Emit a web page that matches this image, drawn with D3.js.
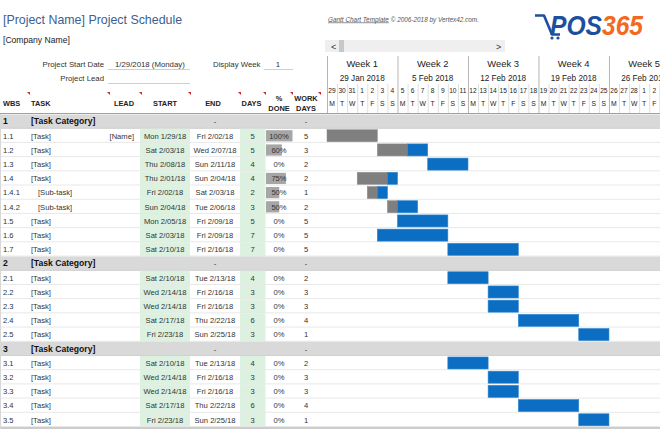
<!DOCTYPE html>
<html><head><meta charset="utf-8">
<script src="https://cdn.jsdelivr.net/npm/d3@7"></script>
<style>body{margin:0;background:#fff;} svg{display:block;font-family:"Liberation Sans",Arial,sans-serif;}</style>
</head><body><svg id="c" width="660" height="440"></svg>
<script>
// ---------- data ----------
const wbs = ["1","1.1","1.2","1.3","1.4","1.4.1","1.4.2","1.5","1.6","1.7","2","2.1","2.2","2.3","2.4","2.5","3","3.1","3.2","3.3","3.4","3.5"];
const tasks = ["[Task Category]","[Task]","[Task]","[Task]","[Task]","[Sub-task]","[Sub-task]","[Task]","[Task]","[Task]",
  "[Task Category]","[Task]","[Task]","[Task]","[Task]","[Task]",
  "[Task Category]","[Task]","[Task]","[Task]","[Task]","[Task]"];
const leads = ["","[Name]","","","","","","","","","","","","","","","","","","","",""];
const startDates = [null,"2018-01-29","2018-02-03","2018-02-08","2018-02-01","2018-02-02","2018-02-04","2018-02-05","2018-02-03","2018-02-10",
  null,"2018-02-10","2018-02-14","2018-02-14","2018-02-17","2018-02-23",
  null,"2018-02-10","2018-02-14","2018-02-14","2018-02-17","2018-02-23"];
const endDates = [null,"2018-02-02","2018-02-07","2018-02-11","2018-02-04","2018-02-03","2018-02-06","2018-02-09","2018-02-09","2018-02-16",
  null,"2018-02-13","2018-02-16","2018-02-16","2018-02-22","2018-02-25",
  null,"2018-02-13","2018-02-16","2018-02-16","2018-02-22","2018-02-25"];
const days = [null,5,5,4,4,2,3,5,7,7,null,4,3,3,6,3,null,4,3,3,6,3];
const pctDone = [null,100,60,0,75,50,50,0,0,0,null,0,0,0,0,0,null,0,0,0,0,0];
const workDays = ["-",5,3,2,2,1,2,5,5,5,"-",2,3,3,4,1,"-",2,3,3,4,1];
const weekLabels = ["Week 1","Week 2","Week 3","Week 4","Week 5"];
const dayLetters = ["M","T","W","T","F","S","S"];
const projectStart = "2018-01-29";
const projectStartLabel = "1/29/2018 (Monday)";
const displayWeek = "1";

// ---------- setup ----------
const svg = d3.select("#c");
const parse = d3.timeParse("%Y-%m-%d");
const fmtCell = d3.timeFormat("%a %-m/%d/%y");
const fmtWeek = d3.timeFormat("%-d %b %Y");
const t0 = parse(projectStart);
const tEnd = d3.timeDay.offset(t0, 35);
const x = d3.scaleTime().domain([t0, tEnd]).range([327, 327 + 35 * 10.07]);
const y = d3.scaleBand().domain(d3.range(wbs.length)).range([114.5, 427]).padding(0);
const pctW = d3.scaleLinear().domain([0, 100]).range([0, 26.5]);
const isCat = i => startDates[i] === null;
const BLUE = "#0b6ec2", GRAY = "#7f7f7f", GREEN = "#dcf1e0", CATBG = "#d9d9d9";

// ---------- title area ----------
svg.append("text").attr("x", 3).attr("y", 23.5).attr("font-size", 12.4).attr("fill", "#3c5e91").text("[Project Name] Project Schedule");
svg.append("text").attr("x", 3).attr("y", 43).attr("font-size", 8.6).attr("fill", "#222").text("[Company Name]");

const info = svg.append("g").attr("font-size", 7.8).attr("fill", "#333");
info.append("text").attr("x", 104).attr("y", 66.5).attr("text-anchor", "end").text("Project Start Date");
info.append("text").attr("x", 104).attr("y", 80.5).attr("text-anchor", "end").text("Project Lead");
info.append("text").attr("x", 115).attr("y", 66.5).text(projectStartLabel);
info.append("text").attr("x", 213).attr("y", 66.5).text("Display Week");
info.append("text").attr("x", 278).attr("y", 66.5).attr("text-anchor", "middle").text(displayWeek);
[[108,190,69.5],[108,190,83.5],[264,293,69.5]].forEach(d =>
  svg.append("line").attr("x1", d[0]).attr("x2", d[1]).attr("y1", d[2]).attr("y2", d[2]).attr("stroke", "#cfcfcf").attr("stroke-width", 1));

// credit
const cr = svg.append("text").attr("x", 328).attr("y", 21.5).attr("font-size", 6.4).attr("font-style", "italic").attr("fill", "#555");
cr.append("tspan").attr("text-decoration", "underline").text("Gantt Chart Template");
cr.append("tspan").text(" © 2006-2018 by Vertex42.com.");

// logo
const logo = svg.append("g");
logo.append("path").attr("d", "M535,15.5 L544,15.5 L552,34.5 L560,34.5").attr("fill", "none").attr("stroke", "#1d4f9f").attr("stroke-width", 2.6).attr("stroke-linejoin", "round");
logo.append("circle").attr("cx", 552).attr("cy", 38).attr("r", 1.6).attr("fill", "#1d4f9f");
logo.append("circle").attr("cx", 558).attr("cy", 38).attr("r", 1.6).attr("fill", "#1d4f9f");
const lt = logo.append("text").attr("x", 550).attr("y", 35).attr("font-size", 28).attr("font-weight", "bold").attr("font-style", "italic")
  .attr("textLength", 93).attr("lengthAdjust", "spacingAndGlyphs");
lt.append("tspan").attr("fill", "#1d4f9f").text("POS");
lt.append("tspan").attr("fill", "#f26a21").text("365");

// scrollbar
svg.append("rect").attr("x", 325).attr("y", 40).attr("width", 180).attr("height", 12).attr("fill", "#efefef");
svg.append("rect").attr("x", 339).attr("y", 40).attr("width", 5).attr("height", 12).attr("fill", "#c8c8c8");
svg.append("text").attr("x", 331).attr("y", 49.5).attr("font-size", 9).attr("fill", "#333").text("<");
svg.append("text").attr("x", 496).attr("y", 49.5).attr("font-size", 9).attr("fill", "#333").text(">");

// ---------- rows background ----------
const rows = svg.append("g");
wbs.forEach((w, i) => {
  const top = y(i), h = y.bandwidth();
  if (isCat(i)) {
    rows.append("rect").attr("x", 0).attr("y", top).attr("width", 660).attr("height", h).attr("fill", CATBG);
  } else {
    rows.append("rect").attr("x", 140).attr("y", top).attr("width", 50).attr("height", h).attr("fill", GREEN);
    rows.append("rect").attr("x", 240).attr("y", top).attr("width", 25.5).attr("height", h).attr("fill", GREEN);
  }
  rows.append("line").attr("x1", 0).attr("x2", 660).attr("y1", top + h - 0.5).attr("y2", top + h - 0.5)
    .attr("stroke", isCat(i) ? "#d0d0d0" : "#e8e8e8").attr("stroke-width", 1);
});
svg.append("line").attr("x1", 0).attr("x2", 660).attr("y1", 428).attr("y2", 428).attr("stroke", "#cccccc").attr("stroke-width", 2);
svg.append("line").attr("x1", 0.5).attr("x2", 0.5).attr("y1", 113).attr("y2", 429).attr("stroke", "#d8d8d8");

// ---------- table header ----------
const hdr = svg.append("g").attr("font-size", 7.4).attr("font-weight", "bold").attr("fill", "#222");
hdr.append("text").attr("x", 3).attr("y", 106).text("WBS");
hdr.append("text").attr("x", 31).attr("y", 106).text("TASK");
hdr.append("text").attr("x", 134).attr("y", 106).attr("text-anchor", "end").text("LEAD");
hdr.append("text").attr("x", 165).attr("y", 106).attr("text-anchor", "middle").text("START");
hdr.append("text").attr("x", 213).attr("y", 106).attr("text-anchor", "middle").text("END");
hdr.append("text").attr("x", 251.5).attr("y", 106).attr("text-anchor", "middle").text("DAYS");
hdr.append("text").attr("x", 279).attr("y", 100.5).attr("text-anchor", "middle").text("%");
hdr.append("text").attr("x", 279).attr("y", 111).attr("text-anchor", "middle").text("DONE");
hdr.append("text").attr("x", 306).attr("y", 100.5).attr("text-anchor", "middle").text("WORK");
hdr.append("text").attr("x", 306).attr("y", 111).attr("text-anchor", "middle").text("DAYS");
[27,107,139,188,238,263,290,318].forEach(px =>
  svg.append("path").attr("d", `M${px},92 L${px+3},92 L${px+3},95 Z`).attr("fill", "#d42020"));

// ---------- gantt header ----------
const gh = svg.append("g");
const dayList = d3.timeDay.range(t0, tEnd);
const weekList = d3.timeMonday.range(t0, tEnd);
weekList.forEach((wd, k) => {
  const cx = x(wd) + 35.2;
  gh.append("text").attr("x", cx).attr("y", 66.5).attr("text-anchor", "middle").attr("font-size", 9.4).attr("fill", "#222").text(weekLabels[k]);
  gh.append("text").attr("x", cx).attr("y", 80.5).attr("text-anchor", "middle").attr("font-size", 8.2).attr("fill", "#222").text(fmtWeek(wd));
  gh.append("line").attr("x1", x(wd) + 0.5).attr("x2", x(wd) + 0.5).attr("y1", 56).attr("y2", 113).attr("stroke", "#b5b5b5");
});
dayList.forEach((dd, k) => {
  const cx = x(dd) + 5;
  gh.append("text").attr("x", cx).attr("y", 92.5).attr("text-anchor", "middle").attr("font-size", 6.6).attr("fill", "#222").text(dd.getDate());
  gh.append("text").attr("x", cx).attr("y", 105.5).attr("text-anchor", "middle").attr("font-size", 6.8).attr("fill", "#222").text(dayLetters[k % 7]);
  if (k % 7 !== 0) gh.append("line").attr("x1", x(dd) + 0.5).attr("x2", x(dd) + 0.5).attr("y1", 84).attr("y2", 113).attr("stroke", "#dedede");
});
svg.append("line").attr("x1", 0).attr("x2", 660).attr("y1", 113.5).attr("y2", 113.5).attr("stroke", "#a0a0a0").attr("stroke-width", 1.2);

// ---------- table body ----------
const body = svg.append("g").attr("fill", "#333");
wbs.forEach((w, i) => {
  const cy = y(i) + y.bandwidth() / 2 + 2.8;
  if (isCat(i)) {
    body.append("text").attr("x", 3).attr("y", cy).attr("font-size", 8.6).attr("font-weight", "bold").attr("fill", "#111").text(w);
    body.append("text").attr("x", 31).attr("y", cy).attr("font-size", 8.6).attr("font-weight", "bold").attr("fill", "#111").text(tasks[i]);
    body.append("text").attr("x", 215).attr("y", cy).attr("font-size", 7.6).attr("text-anchor", "middle").text("-");
    body.append("text").attr("x", 306).attr("y", cy).attr("font-size", 7.6).attr("text-anchor", "middle").text(workDays[i]);
    return;
  }
  const top = y(i), h = y.bandwidth();
  if (pctDone[i] > 0) body.append("rect").attr("x", 266).attr("y", top + 1.5).attr("width", pctW(pctDone[i])).attr("height", h - 3).attr("fill", "#a6a6a6");
  const g = body.append("g").attr("font-size", 7.6);
  g.append("text").attr("x", 3).attr("y", cy).text(w);
  g.append("text").attr("x", tasks[i].startsWith("[Sub") ? 38 : 31).attr("y", cy).text(tasks[i]);
  if (leads[i]) g.append("text").attr("x", 134).attr("y", cy).attr("text-anchor", "end").text(leads[i]);
  g.append("text").attr("x", 165).attr("y", cy).attr("text-anchor", "middle").text(fmtCell(parse(startDates[i])));
  g.append("text").attr("x", 215).attr("y", cy).attr("text-anchor", "middle").text(fmtCell(parse(endDates[i])));
  g.append("text").attr("x", 252.5).attr("y", cy).attr("text-anchor", "middle").text(days[i]);
  g.append("text").attr("x", 279).attr("y", cy).attr("text-anchor", "middle").text(pctDone[i] + "%");
  g.append("text").attr("x", 306).attr("y", cy).attr("text-anchor", "middle").text(workDays[i]);
});

// ---------- gantt bars ----------
const bars = svg.append("g");
wbs.forEach((w, i) => {
  if (isCat(i)) return;
  const s = parse(startDates[i]);
  const e = d3.timeDay.offset(parse(endDates[i]), 1);
  const doneDays = Math.floor(days[i] * pctDone[i] / 100);
  const mid = d3.timeDay.offset(s, doneDays);
  const top = y(i) + 1, h = y.bandwidth() - 2.2;
  if (doneDays > 0) bars.append("rect").attr("x", x(s)).attr("y", top).attr("width", x(mid) - x(s)).attr("height", h)
    .attr("fill", GRAY).attr("stroke", "#8c8c8c").attr("stroke-width", 0.5);
  if (mid < e) bars.append("rect").attr("x", x(mid)).attr("y", top).attr("width", x(e) - x(mid)).attr("height", h)
    .attr("fill", BLUE).attr("stroke", "#2f86cf").attr("stroke-width", 0.6);
});
</script></body></html>
